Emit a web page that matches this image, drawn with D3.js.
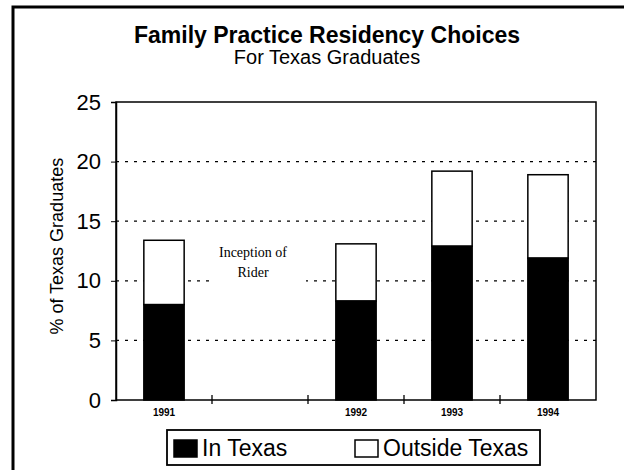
<!DOCTYPE html>
<html>
<head>
<meta charset="utf-8">
<script src="https://cdn.jsdelivr.net/npm/d3@7"></script>
<style>
  body { margin: 0; background: #fff; }
  text { font-family: "Liberation Sans", Arial, sans-serif; }
</style>
</head>
<body>
<svg></svg>
<script>
// categories along the x axis; the second slot is the empty "rider" gap
var categories = ["1991", "rider", "1992", "1993", "1994"];
var tickLabels = ["1991", "", "1992", "1993", "1994"];
var inTexas = [8.0, null, 8.3, 12.9, 11.9];
var outsideTexas = [5.4, null, 4.8, 6.3, 7.0];
var yTicks = [0, 5, 10, 15, 20, 25];
var gridTicks = [5, 10, 15, 20];
var seriesNames = ["In Texas", "Outside Texas"];
var noteLines = ["Inception of", "Rider"];

var svgWidth = 624, svgHeight = 470;
var margin = { top: 102, right: 28, bottom: 70, left: 116 };
var width = svgWidth - margin.left - margin.right;
var height = svgHeight - margin.top - margin.bottom;

var svg = d3.select("svg")
            .attr("width", svgWidth)
            .attr("height", svgHeight);

svg.append("rect")
   .attr("width", svgWidth)
   .attr("height", svgHeight)
   .attr("fill", "#fff");

// scanned frame: left and top edges only
svg.append("path")
   .attr("d", "M13,470 L13,7 L624,7")
   .attr("fill", "none")
   .attr("stroke", "#000")
   .attr("stroke-width", 3);

svg.append("text")
   .attr("x", 327)
   .attr("y", 43)
   .attr("text-anchor", "middle")
   .attr("font-size", 23)
   .attr("font-weight", "bold")
   .text("Family Practice Residency Choices");

svg.append("text")
   .attr("x", 327)
   .attr("y", 64)
   .attr("text-anchor", "middle")
   .attr("font-size", 20)
   .text("For Texas Graduates");

var g = svg.append("g")
           .attr("transform", "translate(" + margin.left + "," + margin.top + ")");

var x = d3.scaleBand()
          .domain(categories)
          .range([0, width])
          .padding(0);

var y = d3.scaleLinear()
          .domain([0, 25])
          .range([height, 0]);

var barW = x.bandwidth() * 0.42;

// dashed gridlines
g.selectAll(".grid")
 .data(gridTicks)
 .enter().append("line")
 .attr("class", "grid")
 .attr("x1", 0)
 .attr("x2", width)
 .attr("y1", function(d) { return y(d); })
 .attr("y2", function(d) { return y(d); })
 .attr("stroke", "#000")
 .attr("stroke-width", 1.3)
 .attr("stroke-dasharray", "3,6");

// white box behind the note
var noteX = x("rider") + x.bandwidth() / 2;
g.append("rect")
 .attr("x", x("rider") + 2)
 .attr("y", y(14))
 .attr("width", x.bandwidth() - 4)
 .attr("height", y(9.6) - y(14))
 .attr("fill", "#fff");

g.selectAll(".note")
 .data(noteLines)
 .enter().append("text")
 .attr("class", "note")
 .attr("x", noteX - 7)
 .attr("y", function(d, i) { return y(12.4) + 5 + i * 20; })
 .attr("text-anchor", "middle")
 .style("font-family", "'Liberation Serif', 'Times New Roman', serif")
 .attr("font-size", 14)
 .text(function(d) { return d; });

var rows = categories.map(function(c, i) {
    return { cat: c, a: inTexas[i], b: outsideTexas[i] };
}).filter(function(d) { return d.a != null; });

// outside Texas (stacked on top)
g.selectAll(".outside")
 .data(rows)
 .enter().append("rect")
 .attr("class", "outside")
 .attr("x", function(d) { return x(d.cat) + (x.bandwidth() - barW) / 2; })
 .attr("y", function(d) { return y(d.a + d.b); })
 .attr("width", barW)
 .attr("height", function(d) { return y(d.a) - y(d.a + d.b); })
 .attr("fill", "#fff")
 .attr("stroke", "#000")
 .attr("stroke-width", 1.5);

g.selectAll(".inside")
 .data(rows)
 .enter().append("rect")
 .attr("class", "inside")
 .attr("x", function(d) { return x(d.cat) + (x.bandwidth() - barW) / 2; })
 .attr("y", function(d) { return y(d.a); })
 .attr("width", barW)
 .attr("height", function(d) { return y(0) - y(d.a); })
 .attr("fill", "#000")
 .attr("stroke", "#000")
 .attr("stroke-width", 1.5);

// plot frame
g.append("rect")
 .attr("width", width)
 .attr("height", height)
 .attr("fill", "none")
 .attr("stroke", "#000")
 .attr("stroke-width", 1.5);

// y axis
var yAxis = g.append("g")
             .call(d3.axisLeft(y).tickValues(yTicks).tickSize(5).tickPadding(10));
yAxis.select(".domain").attr("stroke-width", 1.5);
yAxis.selectAll("text")
     .attr("font-size", 22)
     .attr("fill", "#000")
     .style("font-family", "'Liberation Sans', Arial, sans-serif");

// x axis labels
var xAxis = g.append("g")
             .attr("transform", "translate(0," + height + ")")
             .call(d3.axisBottom(x).tickSize(0).tickPadding(9)
                     .tickFormat(function(d, i) { return tickLabels[i]; }));
xAxis.select(".domain").remove();
xAxis.selectAll("text")
     .attr("font-size", 10)
     .attr("font-weight", "bold")
     .attr("fill", "#000")
     .style("font-family", "'Liberation Sans', Arial, sans-serif");

// boundary ticks between categories
g.selectAll(".btick")
 .data(categories.slice(1))
 .enter().append("line")
 .attr("class", "btick")
 .attr("x1", function(d) { return x(d); })
 .attr("x2", function(d) { return x(d); })
 .attr("y1", height - 5)
 .attr("y2", height + 4)
 .attr("stroke", "#000")
 .attr("stroke-width", 1.3);

g.append("text")
 .attr("transform", "translate(-53," + (y(12.9)) + ") rotate(-90)")
 .attr("text-anchor", "middle")
 .attr("font-size", 18)
 .text("% of Texas Graduates");

// legend
var lg = svg.append("g").attr("transform", "translate(167,430)");
lg.append("rect")
  .attr("width", 373)
  .attr("height", 35)
  .attr("fill", "#fff")
  .attr("stroke", "#000")
  .attr("stroke-width", 1.8);

var legX = [7, 188];
var legFill = ["#000", "#fff"];
seriesNames.forEach(function(name, i) {
    lg.append("rect")
      .attr("x", legX[i])
      .attr("y", 10)
      .attr("width", 23)
      .attr("height", 17)
      .attr("fill", legFill[i])
      .attr("stroke", "#000")
      .attr("stroke-width", 1.5);
    lg.append("text")
      .attr("x", legX[i] + 28)
      .attr("y", 26)
      .attr("font-size", 23)
      .text(name);
});
</script>
</body>
</html>
